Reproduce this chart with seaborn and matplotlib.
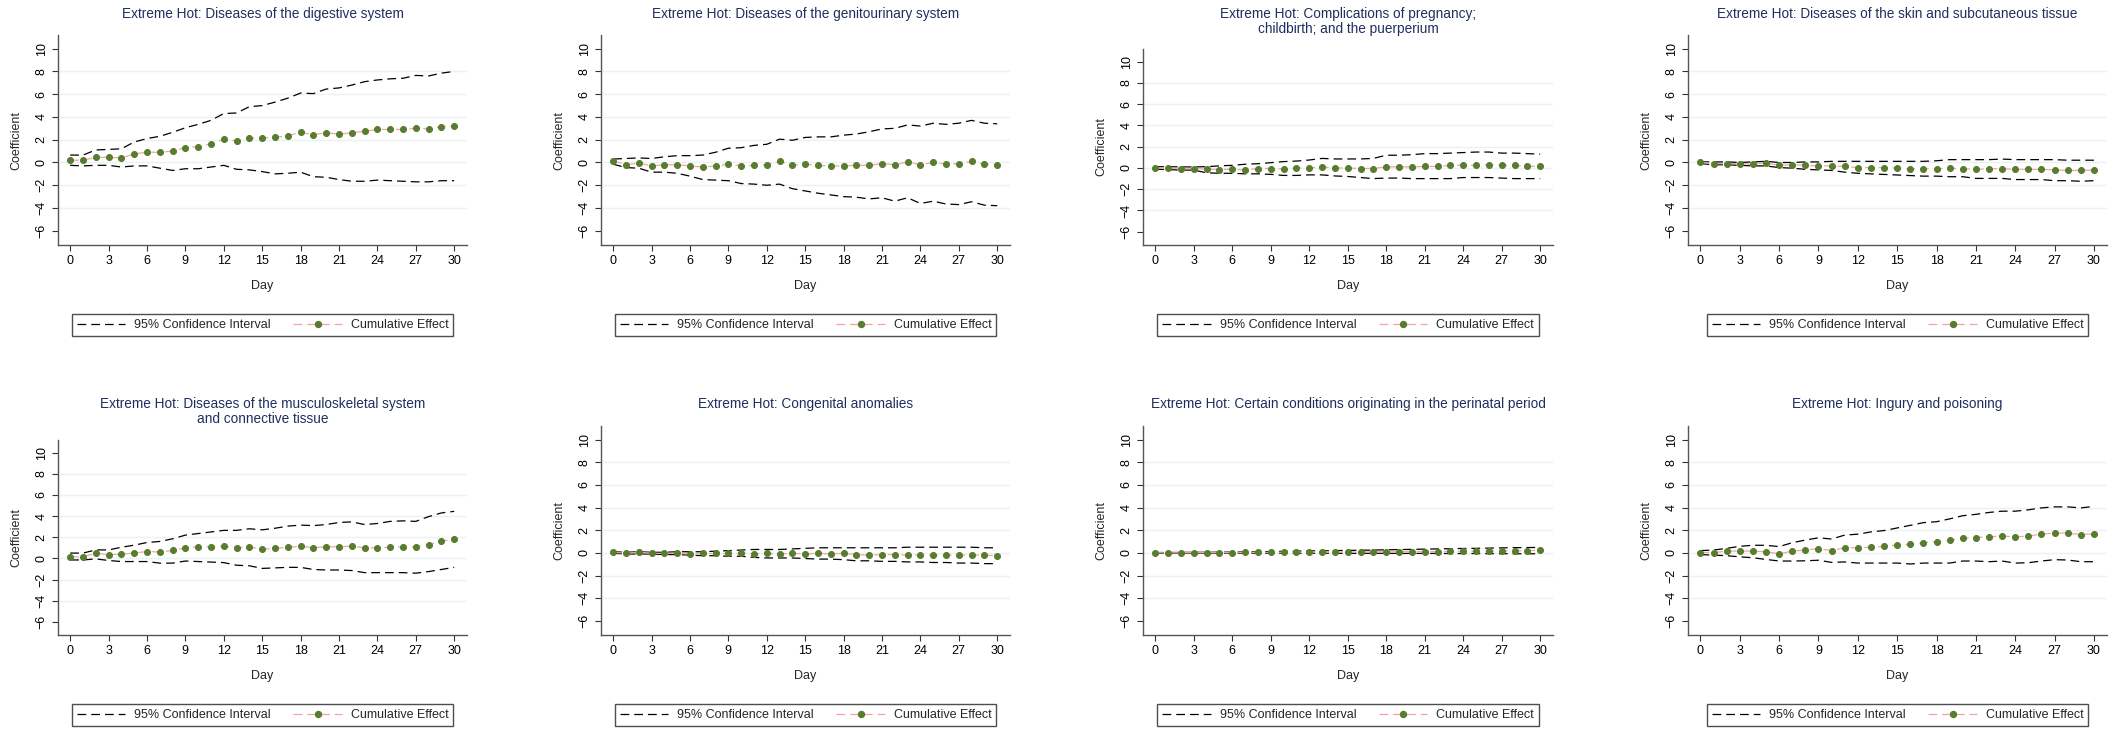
import numpy as np
import pandas as pd
import matplotlib.pyplot as plt
from matplotlib.lines import Line2D
import seaborn as sns

sns.set_theme(style="white")
plt.rcParams['font.family'] = ['Liberation Sans', 'DejaVu Sans']

days = list(range(31))

titles = [
    "Extreme Hot: Diseases of the digestive system",
    "Extreme Hot: Diseases of the genitourinary system",
    "Extreme Hot: Complications of pregnancy;\nchildbirth; and the puerperium",
    "Extreme Hot: Diseases of the skin and subcutaneous tissue",
    "Extreme Hot: Diseases of the musculoskeletal system\nand connective tissue",
    "Extreme Hot: Congenital anomalies",
    "Extreme Hot: Certain conditions originating in the perinatal period",
    "Extreme Hot: Ingury and poisoning",
]

# cumulative effect per panel
effect_digestive = [0.2, 0.2, 0.45, 0.45, 0.4, 0.75, 0.9, 0.9, 1.0, 1.3, 1.4, 1.65, 2.05, 1.9, 2.15, 2.15,
                    2.2, 2.35, 2.65, 2.45, 2.6, 2.5, 2.6, 2.75, 2.9, 2.9, 2.9, 3.0, 2.95, 3.15, 3.2]
upper_digestive = [0.65, 0.65, 1.1, 1.15, 1.2, 1.8, 2.1, 2.3, 2.65, 3.05, 3.35, 3.7, 4.3, 4.35, 4.9, 5.0,
                   5.3, 5.65, 6.1, 6.05, 6.45, 6.55, 6.8, 7.1, 7.25, 7.35, 7.4, 7.65, 7.6, 7.85, 8.0]
lower_digestive = [-0.25, -0.3, -0.25, -0.25, -0.4, -0.3, -0.3, -0.5, -0.7, -0.55, -0.55, -0.4, -0.25, -0.6,
                   -0.65, -0.8, -1.0, -0.95, -0.85, -1.25, -1.3, -1.5, -1.65, -1.65, -1.55, -1.6, -1.65,
                   -1.7, -1.7, -1.6, -1.6]

effect_genito = [0.15, -0.2, -0.05, -0.3, -0.2, -0.2, -0.3, -0.4, -0.3, -0.15, -0.3, -0.25, -0.2, 0.1, -0.25,
                 -0.15, -0.25, -0.3, -0.3, -0.25, -0.25, -0.1, -0.2, 0.05, -0.2, 0.0, -0.15, -0.1, 0.1,
                 -0.15, -0.2]
upper_genito = [0.3, 0.35, 0.4, 0.35, 0.5, 0.6, 0.6, 0.65, 0.9, 1.25, 1.3, 1.5, 1.6, 2.05, 1.95, 2.2, 2.25,
                2.25, 2.4, 2.5, 2.7, 2.95, 3.0, 3.3, 3.2, 3.45, 3.35, 3.45, 3.7, 3.45, 3.4]
lower_genito = [-0.15, -0.45, -0.5, -0.85, -0.85, -0.95, -1.2, -1.5, -1.55, -1.6, -1.85, -1.9, -2.0, -1.9,
                -2.3, -2.5, -2.7, -2.85, -3.0, -3.05, -3.2, -3.1, -3.4, -3.1, -3.6, -3.4, -3.65, -3.7,
                -3.45, -3.75, -3.8]

effect_pregnancy = [0.0, 0.0, -0.05, -0.05, -0.1, -0.15, -0.1, -0.2, -0.05, -0.05, -0.1, 0.0, 0.0, 0.1, 0.0,
                    0.0, -0.05, -0.05, 0.1, 0.1, 0.1, 0.15, 0.15, 0.25, 0.25, 0.25, 0.3, 0.25, 0.25, 0.15,
                    0.15]
upper_pregnancy = [0.12, 0.12, 0.1, 0.1, 0.12, 0.2, 0.25, 0.35, 0.4, 0.5, 0.6, 0.65, 0.75, 0.9, 0.85, 0.85,
                   0.85, 0.9, 1.2, 1.2, 1.25, 1.35, 1.35, 1.4, 1.45, 1.5, 1.5, 1.4, 1.4, 1.35, 1.3]
lower_pregnancy = [-0.12, -0.15, -0.2, -0.2, -0.45, -0.5, -0.5, -0.55, -0.55, -0.6, -0.7, -0.7, -0.65, -0.65,
                   -0.75, -0.8, -0.9, -1.0, -0.95, -0.95, -1.0, -1.0, -1.0, -1.0, -0.9, -0.9, -0.9, -0.95,
                   -1.0, -1.0, -1.0]

effect_skin = [0.0, -0.1, -0.1, -0.1, -0.15, -0.05, -0.25, -0.2, -0.25, -0.3, -0.3, -0.35, -0.45, -0.45,
               -0.45, -0.5, -0.55, -0.55, -0.55, -0.5, -0.55, -0.6, -0.55, -0.55, -0.6, -0.6, -0.6, -0.65,
               -0.7, -0.7, -0.65]
upper_skin = [0.05, 0.05, 0.05, 0.0, 0.05, 0.1, 0.0, 0.0, 0.05, 0.05, 0.1, 0.1, 0.1, 0.1, 0.1, 0.1, 0.1, 0.1,
              0.15, 0.25, 0.25, 0.25, 0.25, 0.3, 0.25, 0.25, 0.25, 0.25, 0.2, 0.2, 0.2]
lower_skin = [-0.1, -0.2, -0.2, -0.25, -0.3, -0.3, -0.45, -0.5, -0.6, -0.65, -0.7, -0.85, -0.95, -1.0, -1.05,
              -1.1, -1.15, -1.2, -1.2, -1.25, -1.25, -1.4, -1.4, -1.4, -1.5, -1.5, -1.5, -1.6, -1.6, -1.65,
              -1.6]

effect_musculo = [0.15, 0.15, 0.5, 0.35, 0.4, 0.5, 0.65, 0.6, 0.75, 1.0, 1.1, 1.1, 1.15, 1.0, 1.1, 0.85,
                  0.95, 1.05, 1.15, 1.0, 1.1, 1.1, 1.15, 1.0, 1.0, 1.05, 1.1, 1.1, 1.3, 1.65, 1.8]
upper_musculo = [0.5, 0.5, 0.8, 0.8, 1.05, 1.25, 1.5, 1.6, 1.85, 2.2, 2.35, 2.5, 2.65, 2.65, 2.8, 2.7, 2.85,
                 3.05, 3.15, 3.1, 3.2, 3.4, 3.45, 3.2, 3.3, 3.5, 3.55, 3.5, 3.95, 4.3, 4.45]
lower_musculo = [-0.15, -0.15, -0.05, -0.2, -0.3, -0.3, -0.3, -0.45, -0.45, -0.25, -0.3, -0.35, -0.4, -0.65,
                 -0.7, -0.95, -0.9, -0.85, -0.85, -1.05, -1.1, -1.1, -1.15, -1.35, -1.35, -1.35, -1.35,
                 -1.4, -1.25, -1.05, -0.85]

effect_congenital = [0.05, -0.03, 0.05, -0.03, -0.05, -0.03, -0.1, -0.05, -0.05, -0.05, -0.03, -0.1, -0.05,
                     -0.1, -0.03, -0.1, -0.03, -0.1, -0.03, -0.15, -0.2, -0.15, -0.15, -0.2, -0.2, -0.2,
                     -0.2, -0.2, -0.2, -0.2, -0.25]
upper_congenital = [0.1, 0.05, 0.1, 0.05, 0.05, 0.1, 0.1, 0.1, 0.15, 0.2, 0.25, 0.3, 0.3, 0.3, 0.35, 0.4,
                    0.45, 0.45, 0.45, 0.45, 0.45, 0.45, 0.45, 0.5, 0.5, 0.5, 0.5, 0.5, 0.5, 0.45, 0.45]
lower_congenital = [-0.03, -0.1, -0.1, -0.1, -0.15, -0.15, -0.2, -0.25, -0.25, -0.3, -0.3, -0.4, -0.45,
                    -0.45, -0.45, -0.5, -0.55, -0.55, -0.6, -0.7, -0.7, -0.75, -0.75, -0.8, -0.8, -0.85,
                    -0.85, -0.9, -0.9, -0.95, -0.95]

effect_perinatal = [0.02, 0.0, 0.02, 0.02, 0.02, 0.03, 0.03, 0.04, 0.05, 0.05, 0.06, 0.06, 0.07, 0.08, 0.08,
                    0.09, 0.08, 0.1, 0.1, 0.1, 0.11, 0.12, 0.12, 0.13, 0.14, 0.15, 0.15, 0.17, 0.18, 0.2,
                    0.22]
upper_perinatal = [0.03, 0.03, 0.04, 0.05, 0.05, 0.06, 0.07, 0.08, 0.1, 0.12, 0.13, 0.15, 0.17, 0.18, 0.2,
                   0.22, 0.23, 0.25, 0.27, 0.29, 0.31, 0.33, 0.35, 0.37, 0.39, 0.4, 0.42, 0.44, 0.46, 0.47,
                   0.48]
lower_perinatal = [-0.02, -0.02, -0.02, -0.02, -0.02, -0.02, -0.02, -0.02, -0.02, -0.02, -0.02, -0.03, -0.03,
                   -0.03, -0.03, -0.04, -0.04, -0.04, -0.04, -0.05, -0.05, -0.05, -0.05, -0.06, -0.06,
                   -0.06, -0.07, -0.07, -0.08, -0.08, -0.08]

effect_injury = [0.03, 0.03, 0.15, 0.17, 0.15, 0.1, -0.08, 0.15, 0.25, 0.38, 0.2, 0.45, 0.45, 0.5, 0.57, 0.7,
                 0.75, 0.9, 1.0, 1.1, 1.3, 1.35, 1.42, 1.48, 1.42, 1.48, 1.65, 1.75, 1.75, 1.62, 1.68]
upper_injury = [0.2, 0.25, 0.4, 0.58, 0.67, 0.67, 0.55, 0.9, 1.13, 1.33, 1.22, 1.57, 1.65, 1.85, 1.97, 2.2,
                2.43, 2.67, 2.75, 3.0, 3.28, 3.4, 3.57, 3.68, 3.68, 3.8, 3.97, 4.06, 4.06, 3.97, 4.1]
lower_injury = [-0.15, -0.2, -0.25, -0.35, -0.43, -0.58, -0.72, -0.72, -0.7, -0.65, -0.84, -0.8, -0.9, -0.9,
                -0.9, -0.9, -0.98, -0.9, -0.9, -0.9, -0.72, -0.72, -0.78, -0.72, -0.9, -0.87, -0.72, -0.6,
                -0.63, -0.78, -0.78]

effects = [effect_digestive, effect_genito, effect_pregnancy, effect_skin,
           effect_musculo, effect_congenital, effect_perinatal, effect_injury]
uppers = [upper_digestive, upper_genito, upper_pregnancy, upper_skin,
          upper_musculo, upper_congenital, upper_perinatal, upper_injury]
lowers = [lower_digestive, lower_genito, lower_pregnancy, lower_skin,
          lower_musculo, lower_congenital, lower_perinatal, lower_injury]

x_ticks = list(range(0, 31, 3))
y_ticks = list(range(-6, 11, 2))

W, H = 2127, 730
fig = plt.figure(figsize=(W / 100, H / 100), dpi=100)

cols = [(58, 467), (601, 1010), (1143, 1553), (1688, 2107)]
row_bottom = [245, 635]
row_top = [35, 426]
title_y = [7, 397]
legend_y = [325, 715]

title_color = "#1f2f5e"
ci_color = "black"
line_color = "#f4a3a3"
dot_color = "#587d2e"
dash = (0, (7, 4))

for i in range(8):
    r, c = divmod(i, 4)
    left, right = cols[c]
    bottom = row_bottom[r]
    top = row_top[r] + (14 if "\n" in titles[i] else 0)
    ax = fig.add_axes([left / W, 1 - bottom / H, (right - left) / W, (bottom - top) / H])

    df = pd.DataFrame({"day": days, "effect": effects[i], "upper": uppers[i], "lower": lowers[i]})
    for yv in y_ticks[1:-1]:
        ax.axhline(yv, color="#eaf2f3", lw=1.0, zorder=0)
    sns.lineplot(data=df, x="day", y="upper", ax=ax, color=ci_color, lw=0.9,
                 linestyle=dash, legend=False)
    sns.lineplot(data=df, x="day", y="lower", ax=ax, color=ci_color, lw=0.9,
                 linestyle=dash, legend=False)
    sns.lineplot(data=df, x="day", y="effect", ax=ax, color=line_color, lw=0.9,
                 linestyle=dash, marker="o", markersize=4.3,
                 markerfacecolor=dot_color, markeredgecolor=dot_color, legend=False)

    ax.set_xlim(-0.95, 31.0)
    ax.set_ylim(-7.25, 11.2)
    ax.set_xticks(x_ticks)
    ax.set_yticks(y_ticks)
    ax.tick_params(axis="both", which="major", length=4, width=0.8, color="#333333",
                   labelsize=9, labelcolor="black", pad=3.5, bottom=True, left=True)
    ax.tick_params(axis="y", labelrotation=90)
    for t in ax.yaxis.get_major_ticks():
        t.label1.set_va("center")
    for side in ["top", "right"]:
        ax.spines[side].set_visible(False)
    for side in ["left", "bottom"]:
        ax.spines[side].set_color("#555555")
        ax.spines[side].set_linewidth(1.0)

    ax.set_xlabel("Day", fontsize=9)
    ax.set_ylabel("Coefficient", fontsize=9)
    ax.xaxis.label.set_va("center")
    ax.yaxis.label.set_va("center")
    ax.xaxis.set_label_coords(((left + right) / 2) / W, 1 - (bottom + 41) / H, transform=fig.transFigure)
    ax.yaxis.set_label_coords((left - 42) / W, 1 - ((top + bottom) / 2) / H, transform=fig.transFigure)

    fig.text(((left + right) / 2) / W, 1 - title_y[r] / H, titles[i], ha="center", va="top",
             fontsize=9.8, color=title_color, linespacing=1.05)

    handles = [
        Line2D([], [], color=ci_color, lw=0.9, linestyle=dash),
        Line2D([], [], color=line_color, lw=0.9, linestyle=dash, marker="o",
               markersize=4.3, markerfacecolor=dot_color, markeredgecolor=dot_color),
    ]
    leg = ax.legend(handles, ["95% Confidence Interval", "Cumulative Effect"], ncol=2,
                    loc="center", bbox_to_anchor=(((left + right) / 2) / W, 1 - legend_y[r] / H),
                    bbox_transform=fig.transFigure, fontsize=9, frameon=True, fancybox=False,
                    handlelength=3.9, columnspacing=1.8, handletextpad=0.7, borderpad=0.4,
                    borderaxespad=0)
    leg.get_frame().set_edgecolor("#222222")
    leg.get_frame().set_linewidth(1.0)

fig.savefig("out.png", dpi=100, facecolor="white")
